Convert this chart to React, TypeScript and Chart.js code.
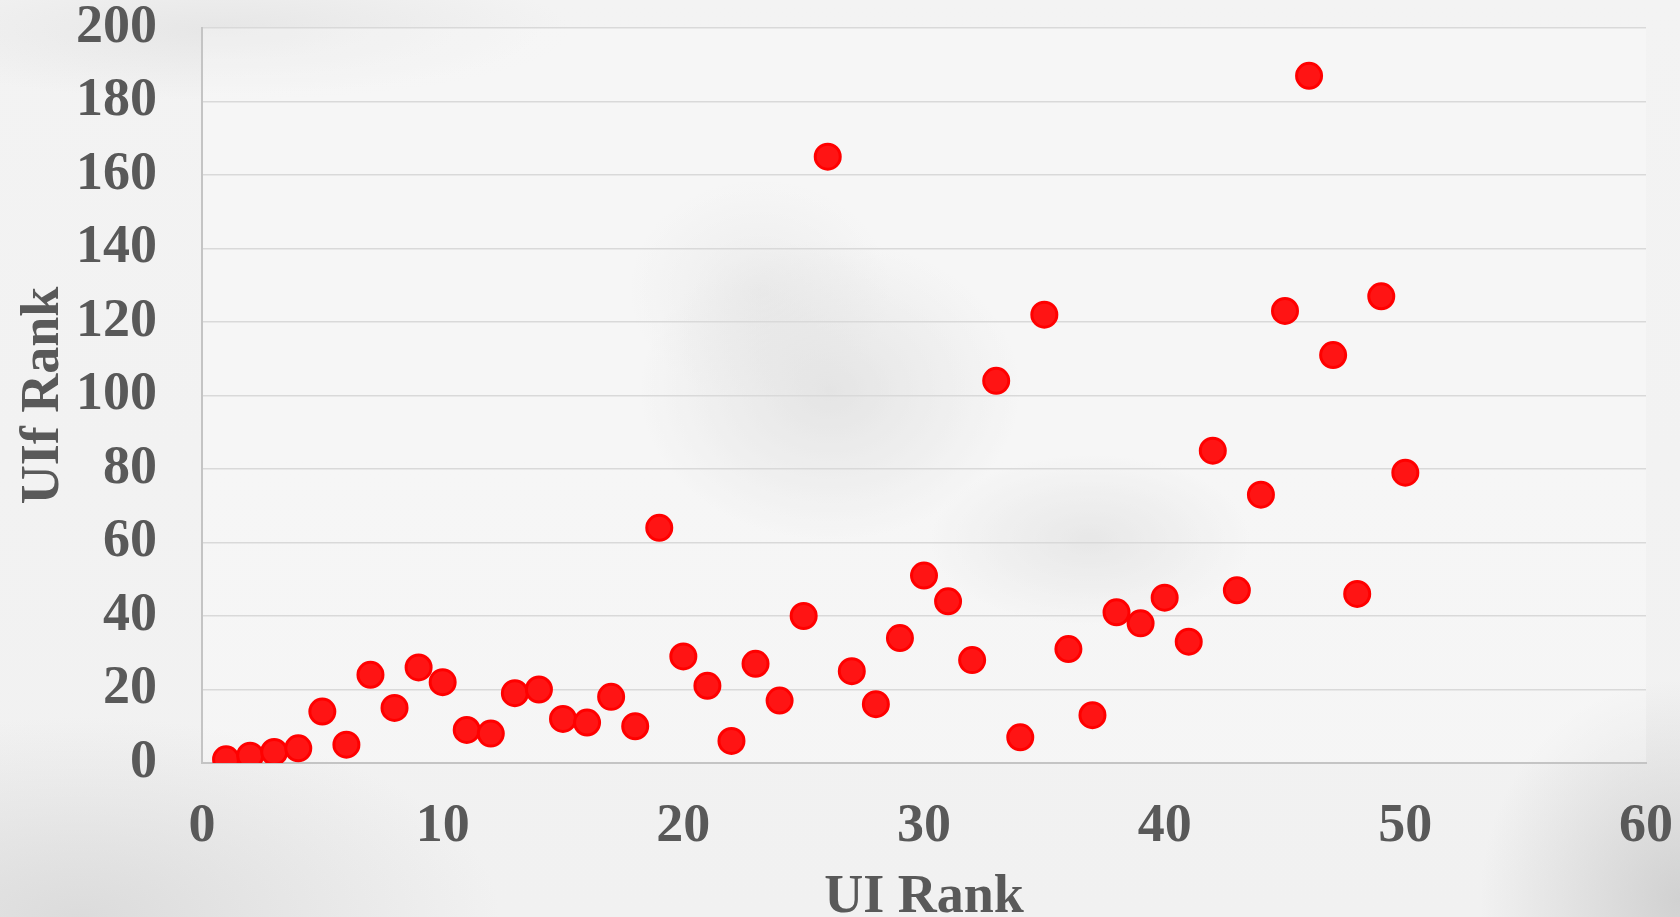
import React, { useEffect, useRef } from "react";
import { Chart, registerables } from "chart.js";

Chart.register(...registerables);

const uiRank: number[] = [
  1, 2, 3, 4, 5, 6, 7, 8, 9, 10,
  11, 12, 13, 14, 15, 16, 17, 18, 19, 20,
  21, 22, 23, 24, 25, 26, 27, 28, 29, 30,
  31, 32, 33, 34, 35, 36, 37, 38, 39, 40,
  41, 42, 43, 44, 45, 46, 47, 48, 49, 50,
];
const uifRank: number[] = [
  1, 2, 3, 4, 14, 5, 24, 15, 26, 22,
  9, 8, 19, 20, 12, 11, 18, 10, 64, 29,
  21, 6, 27, 17, 40, 165, 25, 16, 34, 51,
  44, 28, 104, 7, 122, 31, 13, 41, 38, 45,
  33, 85, 47, 73, 123, 187, 111, 46, 127, 79,
];
const xTitle = "UI Rank";
const yTitle = "UIf Rank";

const TEXT = "#595959";
const FONT = "'Liberation Serif', 'Times New Roman', serif";

const areaFill = {
  id: "areaFill",
  beforeDraw(chart: any) {
    const { ctx, chartArea } = chart;
    if (!chartArea) return;
    ctx.save();
    ctx.fillStyle = "rgba(255,255,255,0.3)";
    ctx.fillRect(chartArea.left, chartArea.top, chartArea.right - chartArea.left, chartArea.bottom - chartArea.top);
    ctx.restore();
  },
};

export default function App() {
  const ref = useRef<HTMLCanvasElement | null>(null);

  useEffect(() => {
    document.body.style.margin = "0";
    const canvas = ref.current;
    if (!canvas) return;
    const zeroPad = (s: any) => {
      s.paddingTop = 0;
      s.paddingBottom = 0;
      s.paddingLeft = 0;
      s.paddingRight = 0;
    };
    const chart = new Chart(canvas, {
      type: "scatter",
      data: {
        datasets: [
          {
            label: "UIf vs UI",
            data: uiRank.map((x, i) => ({ x, y: uifRank[i] })),
            backgroundColor: "#ff1414",
            borderColor: "#ff0000",
            borderWidth: 3,
            pointRadius: 12.5,
            pointHoverRadius: 12.5,
          },
        ],
      },
      options: {
        responsive: false,
        animation: false,
        events: [],
        layout: { padding: { left: 0, right: 34, top: 28, bottom: 0 } },
        plugins: {
          legend: { display: false },
          tooltip: { enabled: false },
        },
        scales: {
          x: {
            type: "linear",
            min: 0,
            max: 60,
            afterFit: (s: any) => {
              s.height = 154;
              zeroPad(s);
            },
            ticks: {
              stepSize: 10,
              color: TEXT,
              padding: 37,
              font: { family: FONT, size: 54, weight: "bold", lineHeight: 1 },
            },
            grid: { display: false, drawTicks: false },
            border: { display: true, color: "#c4c4c4", width: 2 },
            title: {
              display: true,
              text: xTitle,
              color: TEXT,
              padding: 0,
              font: { family: FONT, size: 54, weight: "bold", lineHeight: 0.72 },
            },
          },
          y: {
            type: "linear",
            min: 0,
            max: 200,
            afterFit: (s: any) => {
              s.width = 202;
              zeroPad(s);
            },
            ticks: {
              stepSize: 20,
              color: TEXT,
              padding: 45,
              font: { family: FONT, size: 54, weight: "bold", lineHeight: 1 },
            },
            grid: { color: "#d9d9d9", lineWidth: 1.5, drawTicks: false },
            border: { display: true, color: "#c4c4c4", width: 2 },
            title: {
              display: true,
              text: yTitle,
              color: TEXT,
              padding: { top: 12, bottom: 0 },
              font: { family: FONT, size: 54, weight: "bold", lineHeight: 1.2 },
            },
          },
        },
      },
      plugins: [areaFill],
    });
    return () => chart.destroy();
  }, []);

  const bg = [
    "radial-gradient(ellipse 190px 150px at 830px 390px, rgba(200,200,200,0.6), rgba(200,200,200,0) 100%)",
    "radial-gradient(ellipse 160px 85px at 1090px 540px, rgba(205,205,205,0.55), rgba(205,205,205,0) 100%)",
    "radial-gradient(ellipse 130px 110px at 760px 290px, rgba(210,210,210,0.45), rgba(210,210,210,0) 100%)",
    "radial-gradient(ellipse 420px 200px at 80px 917px, rgba(205,205,205,0.6), rgba(205,205,205,0) 100%)",
    "radial-gradient(ellipse 200px 220px at 1680px 900px, rgba(195,195,195,0.7), rgba(195,195,195,0) 100%)",
    "radial-gradient(ellipse 350px 70px at 220px 30px, rgba(215,215,215,0.45), rgba(215,215,215,0) 100%)",
    "linear-gradient(180deg, #f3f3f3 0%, #f1f1f1 100%)",
  ].join(", ");

  return (
    <div
      style={{
        position: "fixed",
        left: 0,
        top: 0,
        width: 1680,
        height: 917,
        overflow: "hidden",
        background: bg,
      }}
    >
      <canvas ref={ref} width={1680} height={917} style={{ display: "block" }} />
    </div>
  );
}
